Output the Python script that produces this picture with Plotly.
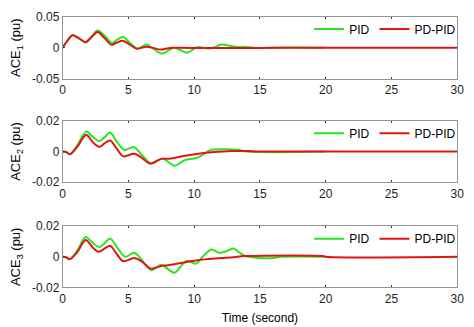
import plotly.graph_objects as go

# ---- data ----
t1_pid = [0, 0.35, 0.74, 1.25, 1.73, 2.2, 2.65, 3.2, 3.75, 4.15, 4.58, 5.1, 5.67, 6.0, 6.36, 6.9, 7.52, 8.0, 8.47, 8.95, 9.45, 9.9, 10.3, 10.7, 11.1, 11.6, 12.05, 12.7, 13.3, 13.8, 14.5, 15.2, 16.0, 20]
ace1_pid = [0, 0.011, 0.020, 0.015, 0.0088, 0.018, 0.0275, 0.019, 0.0075, 0.013, 0.017, 0.008, -0.0015, 0.001, 0.005, -0.002, -0.0095, -0.005, 0.0, -0.004, -0.008, -0.003, 0.001, 0.0, -0.0015, 0.001, 0.005, 0.003, 0.001, 0.0015, 0.0, -0.0005, 0.0, 0.0]
t1_pdpid = [0, 0.35, 0.74, 1.25, 1.73, 2.2, 2.65, 3.2, 3.7, 4.1, 4.55, 5.1, 5.6, 6.0, 6.4, 6.9, 7.4, 7.9, 8.3, 9.0, 10, 12, 15, 17.6, 20, 30]
ace1_pdpid = [0, 0.011, 0.020, 0.015, 0.0087, 0.017, 0.025, 0.015, 0.0046, 0.008, 0.011, 0.005, -0.0015, 0.0, 0.0015, -0.0005, -0.003, -0.0015, 0.0, -0.0003, -0.0005, -0.0005, -0.0005, 0.0, 0.0, 0.0]

t2_pid = [0, 0.25, 0.55, 1.1, 1.78, 2.3, 2.8, 3.2, 3.6, 4.15, 4.7, 5.4, 6.0, 6.7, 7.15, 7.6, 8.05, 8.5, 9.3, 10.0, 10.5, 11.0, 11.4, 12.5, 13.3, 14.0, 20]
ace2_pid = [0, -0.0003, -0.0017, 0.004, 0.013, 0.0095, 0.0068, 0.0095, 0.0124, 0.006, 0.001, 0.003, -0.002, -0.0078, -0.006, -0.0045, -0.007, -0.0093, -0.0055, -0.0045, -0.003, 0.0, 0.0013, 0.0015, 0.0012, 0.0, 0.0]
t2_pdpid = [0, 0.25, 0.55, 1.1, 1.78, 2.3, 2.8, 3.2, 3.6, 4.1, 4.6, 5.45, 6.0, 6.65, 7.5, 8.1, 9.3, 10.3, 11.3, 12.8, 14.0, 15.0, 20, 30]
ace2_pdpid = [0, -0.0003, -0.0017, 0.003, 0.0109, 0.006, 0.0031, 0.0055, 0.0072, 0.002, -0.0031, -0.0014, -0.004, -0.0078, -0.0048, -0.0047, -0.0027, -0.0014, -0.0005, 0.0004, 0.0003, 0.0, 0.0, 0.0]

t3_pid = [0, 0.25, 0.55, 1.1, 1.75, 2.3, 2.8, 3.2, 3.6, 4.15, 4.75, 5.45, 6.1, 6.73, 7.1, 7.5, 8.0, 8.5, 9.0, 9.45, 10.1, 10.7, 11.3, 11.9, 12.4, 13.0, 13.4, 13.85, 14.4, 15.0, 16.0, 16.6, 20]
ace3_pid = [0, -0.0003, -0.0015, 0.004, 0.013, 0.009, 0.0064, 0.009, 0.012, 0.006, 0.0, 0.0027, -0.003, -0.0087, -0.007, -0.0052, -0.008, -0.0104, -0.006, -0.0025, -0.0045, 0.0005, 0.0048, 0.0027, 0.0035, 0.0054, 0.003, 0.0006, -0.0003, -0.0008, -0.0008, 0.0, 0.0]
t3_pdpid = [0, 0.25, 0.55, 1.1, 1.75, 2.3, 2.75, 3.2, 3.6, 4.1, 4.6, 5.45, 6.0, 6.7, 7.5, 8.0, 9.0, 10.0, 11.0, 12.0, 13.0, 13.85, 19.8, 20, 30]
ace3_pdpid = [0, -0.0003, -0.0015, 0.003, 0.011, 0.006, 0.0033, 0.0055, 0.0072, 0.002, -0.0029, -0.0008, -0.003, -0.0077, -0.006, -0.0055, -0.004, -0.0025, -0.0015, -0.0008, -0.0002, 0.0005, 0.0005, 0.0, 0.0]

x_ticks = [0, 5, 10, 15, 20, 25, 30]
y_ticks_1 = [-0.05, 0, 0.05]
y_labels_1 = ["-0.05", "0", "0.05"]
y_ticks_23 = [-0.02, 0, 0.02]
y_labels_23 = ["-0.02", "0", "0.02"]
y_titles = ["ACE<sub>1</sub> (pu)", "ACE<sub>2</sub> (pu)", "ACE<sub>3</sub> (pu)"]
series_names = ["PID", "PD-PID"]

GREEN = "rgb(40,230,30)"
RED = "rgb(228,20,20)"
FONT = "Liberation Sans, Arial, sans-serif"

W, H = 474, 327
x_dom = [61 / W, 464 / W]
# (top px, bottom px) of each panel
panels_px = [(10, 75), (119, 183), (229, 293)]

fig = go.Figure()
data = [
    (t1_pid, ace1_pid, t1_pdpid, ace1_pdpid),
    (t2_pid, ace2_pid, t2_pdpid, ace2_pdpid),
    (t3_pid, ace3_pid, t3_pdpid, ace3_pdpid),
]
legend_ids = ["legend", "legend2", "legend3"]
for i, (tg, yg, tr, yr) in enumerate(data):
    xa = "x" if i == 0 else f"x{i+1}"
    ya = "y" if i == 0 else f"y{i+1}"
    fig.add_trace(go.Scatter(x=tg, y=yg, mode="lines", line=dict(color=GREEN, width=2, shape="spline", smoothing=0.9),
                             name=series_names[0], xaxis=xa, yaxis=ya, legend=legend_ids[i]))
    fig.add_trace(go.Scatter(x=tr, y=yr, mode="lines", line=dict(color=RED, width=2, shape="spline", smoothing=0.9),
                             name=series_names[1], xaxis=xa, yaxis=ya, legend=legend_ids[i]))

axis_common = dict(showline=True, linecolor="rgb(150,150,150)", linewidth=1, mirror="ticks",
                   ticks="inside", ticklen=2, tickcolor="rgb(60,60,60)", showgrid=False, zeroline=False,
                   tickfont=dict(family=FONT, size=12, color="rgb(30,30,30)"))

layout = dict(width=W, height=H, margin=dict(l=0, r=0, t=0, b=0),
              paper_bgcolor="white", plot_bgcolor="white", font=dict(family=FONT, size=12, color="black"))
for i, (top, bot) in enumerate(panels_px):
    sfx = "" if i == 0 else str(i + 1)
    y_dom = [1 - bot / H, 1 - top / H]
    xax = dict(axis_common, domain=x_dom, range=[0, 30], tickvals=x_ticks, anchor="y" + sfx)
    if i == 2:
        xax["title"] = dict(text="Time (second)", font=dict(family=FONT, size=12), standoff=8)
    if i == 0:
        yax = dict(axis_common, domain=y_dom, range=[-0.05, 0.05], tickvals=y_ticks_1, ticktext=y_labels_1)
    else:
        yax = dict(axis_common, domain=y_dom, range=[-0.02, 0.02], tickvals=y_ticks_23, ticktext=y_labels_23)
    yax["anchor"] = "x" + sfx
    yax["title"] = dict(text=y_titles[i], font=dict(family=FONT, size=13), standoff=8)
    layout["xaxis" + sfx] = xax
    layout["yaxis" + sfx] = yax
    leg = dict(orientation="h", x=468 / W, xanchor="right", y=1 - (top + 13) / H, yanchor="middle",
               bgcolor="rgba(0,0,0,0)", font=dict(family=FONT, size=12, color="black"),
               itemwidth=30, tracegroupgap=0)
    layout["legend" + sfx] = leg

fig.update_layout(**layout)
fig.update_layout(showlegend=True)
fig.write_html("out.html")
